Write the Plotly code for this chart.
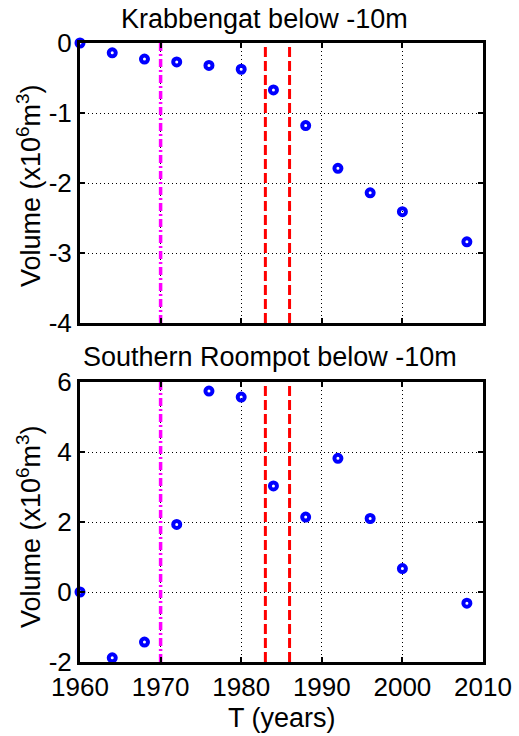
import plotly.graph_objects as go

years = [1960, 1964, 1968, 1972, 1976, 1980, 1984, 1988, 1992, 1996, 2000, 2008]
krabbengat = [0.0, -0.14, -0.23, -0.27, -0.32, -0.375, -0.67, -1.18, -1.79, -2.14, -2.41, -2.84]
roompot = [0.0, -1.88, -1.43, 1.93, 5.74, 5.57, 3.03, 2.14, 3.82, 2.10, 0.67, -0.32]

magenta_year = [1970]
red_years = [1983, 1986]

top_range = [-4, 0]
bot_range = [-2, 6]
x_range = [1960, 2010]
x_ticks = [1960, 1970, 1980, 1990, 2000, 2010]
top_ticks = [0, -1, -2, -3, -4]
bot_ticks = [-2, 0, 2, 4, 6]
top_labels = ["0", "-1", "-2", "-3", "-4"]
bot_labels = ["-2", "0", "2", "4", "6"]

W, H = 519, 736
FONT = "Liberation Sans, Arial, sans-serif"
FS = 26
FT = 27

def px_x(p):
    return p / W

def px_y(p):
    return 1 - p / H

fig = go.Figure()

def add_panel(xa, ya, vals, yr):
    xref = "x" if xa == 1 else f"x{xa}"
    yref = "y" if ya == 1 else f"y{ya}"
    for yv in magenta_year:
        fig.add_trace(go.Scatter(x=[yv, yv], y=yr, mode="lines", xaxis=xref, yaxis=yref,
                                 line=dict(color="#ff00ff", width=3.5, dash="8px,3px,2px,3px"),
                                 showlegend=False, hoverinfo="skip"))
    for yv in red_years:
        fig.add_trace(go.Scatter(x=[yv, yv], y=yr, mode="lines", xaxis=xref, yaxis=yref,
                                 line=dict(color="#ff0000", width=3, dash="10px,4px"),
                                 showlegend=False, hoverinfo="skip"))
    fig.add_trace(go.Scatter(x=years, y=vals, mode="markers", xaxis=xref, yaxis=yref,
                             marker=dict(symbol="circle-open", size=7, color="#0000ff",
                                         line=dict(width=4, color="#0000ff")),
                             cliponaxis=False, showlegend=False))

add_panel(1, 1, krabbengat, top_range)
add_panel(2, 2, roompot, bot_range)

axis_common = dict(showline=True, linewidth=3, linecolor="black", mirror="allticks",
                   ticks="inside", ticklen=5, tickwidth=2, tickcolor="black",
                   showgrid=True, gridcolor="black", gridwidth=1, griddash="1px,3px",
                   zeroline=False, automargin=False,
                   tickfont=dict(family=FONT, size=FS, color="black"))

x_dom = [px_x(80), px_x(483)]
fig.update_layout(
    template="none",
    width=W, height=H, margin=dict(l=0, r=0, t=0, b=0, pad=0),
    paper_bgcolor="white", plot_bgcolor="white",
    font=dict(family=FONT, size=FS, color="black"),
    xaxis=dict(domain=x_dom, range=x_range, tickvals=x_ticks, showticklabels=False,
               anchor="y", **axis_common),
    yaxis=dict(domain=[px_y(323), px_y(43)], range=top_range, tickvals=top_ticks,
               ticktext=top_labels, anchor="x", **axis_common),
    xaxis2=dict(domain=x_dom, range=x_range, tickvals=x_ticks,
                ticktext=[str(v) for v in x_ticks], anchor="y2", **axis_common),
    yaxis2=dict(domain=[px_y(662), px_y(382)], range=bot_range, tickvals=bot_ticks,
                ticktext=bot_labels, anchor="x2", **axis_common),
)

ann = dict(xref="paper", yref="paper", showarrow=False, xanchor="center", yanchor="middle",
           font=dict(family=FONT, size=FT, color="black"))
fig.add_annotation(text="Krabbengat below -10m", x=px_x(264), y=px_y(19), **ann)
fig.add_annotation(text="Southern Roompot below -10m", x=px_x(270), y=px_y(357), **ann)
fig.add_annotation(text="T (years)", x=px_x(282), y=px_y(718), **ann)
ylab = "Volume (x10<sup>6</sup>m<sup>3</sup>)"
fig.add_annotation(text=ylab, x=px_x(29), y=px_y(186), textangle=-90, **ann)
fig.add_annotation(text=ylab, x=px_x(29), y=px_y(527), textangle=-90, **ann)

fig.write_html("out.html")
